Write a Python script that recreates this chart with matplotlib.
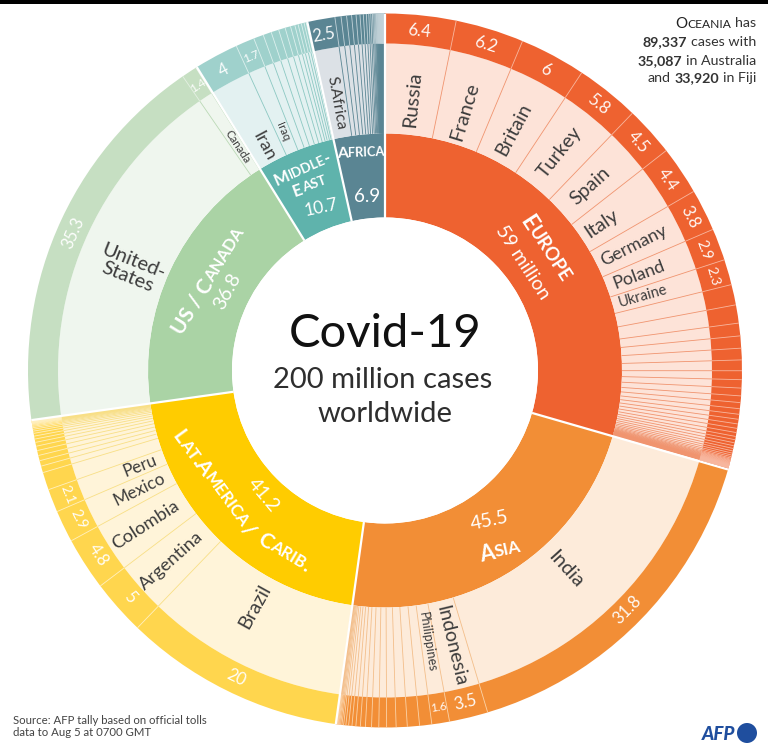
import math
import matplotlib
matplotlib.use("Agg")
import matplotlib.pyplot as plt
from matplotlib.patches import Wedge, Circle, Rectangle
from matplotlib.collections import LineCollection

plt.rcParams['font.family'] = ['Lato', 'DejaVu Sans']

# ---------- data (million cases) ----------
REGION_NAMES = ["Europe", "Asia", "LatAm", "US/Canada", "MiddleEast", "Africa"]
REGION_TOTALS = [59, 45.5, 41.2, 36.8, 10.7, 6.9]
OCEANIA_TOTAL = 0.09

EUROPE_VALUES = [6.4, 6.2, 6, 5.8, 4.5, 4.4, 3.8, 2.9, 2.3, 1.85, 1.65, 1.15, 1.1, 1.05, .97, .8, .75, .7, .6, .55, .5,
                 .45, .42, .4, .38, .35, .3, .28, .27, .25, .22, .2, .18, .15, .13, .1, .08, .07, .06, .06, .05, .05,
                 .04, .04, .03, .03, .03, .02, .02, .02, .02, .02, .02, .02, .02, .02, .01, .01, .01, .01, .01, .01]
EUROPE_NAMES = ["Russia", "France", "Britain", "Turkey", "Spain", "Italy", "Germany", "Poland", "Ukraine"]
ASIA_VALUES = [31.8, 3.5, 1.6, 1.1, 1.1, 1.0, .85, .7, .65, .55, .45, .4, .35, .3, .25, .2, .15, .12, .1, .08, .06,
               .05, .04, .03, .03, .02, .02]
ASIA_NAMES = ["India", "Indonesia", "Philippines"]
LATAM_VALUES = [20, 5, 4.8, 2.9, 2.1, 1.6, .6, .5, .48, .45, .4, .35, .3, .27, .25, .2, .17, .14, .12, .1, .08, .06,
                .05, .04, .03, .03, .02, .02, .02, .02, .02, .02, .02, .02, .02]
LATAM_NAMES = ["Brazil", "Argentina", "Colombia", "Mexico", "Peru"]
USCAN_VALUES = [35.3, 1.4]
USCAN_NAMES = ["United-\nStates", "Canada"]
ME_VALUES = [4, 1.7, .9, .75, .7, .6, .5, .4, .3, .3, .25, .2, .1]
ME_NAMES = ["Iran", "Iraq"]
AFRICA_VALUES = [2.5, .55, .5, .45, .4, .35, .3, .27, .22, .18, .15, .12, .1, .08, .06, .05, .05, .04, .04, .04, .04,
                 .03, .03, .03, .03, .03, .03, .02, .02, .02, .02, .02, .02, .02, .02, .02, .02]
AFRICA_NAMES = ["S.Africa"]

# ---------- style ----------
CX, CY = 385, 370.5
R_HOLE, R_IN, R_MID, R_OUT = 153, 237, 327, 357

INNER_COL = ["#EE6230", "#F28E36", "#FFCC00", "#AAD3A5", "#5FB3AC", "#5A8593"]
OUTER_COL = ["#EE6230", "#F28E36", "#FFD64E", "#C6DFC2", "#9FD1CC", "#5A8593"]
LIGHT_COL = ["#FDE3D8", "#FDEBDA", "#FFF4D9", "#EFF6EE", "#E3F1F1", "#DCE1E6"]
LINE_COL = ["#F0946F", "#F3BE8A", "#F8DF86", "#BBD9B6", "#8CC8C2", "#5A8593"]
OUTER_LINE_COL = ["#F8B79F", "#FBD3A8", "#FFF0C0", "#E4F0E2", "#DDF0EE", "#C3D3D9"]

fig = plt.figure(figsize=(7.68, 7.49), dpi=100)
ax = fig.add_axes([0, 0, 1, 1])
ax.set_xlim(0, 768)
ax.set_ylim(749, 0)
ax.axis('off')

TOTAL = sum(REGION_TOTALS) + OCEANIA_TOTAL
K = 360.0 / TOTAL


def wedge(a0, a1, r0, r1, color, z=1):
    ax.add_patch(Wedge((CX, CY), r1, a0 * K - 90, a1 * K - 90, width=r1 - r0, fc=color, ec='none', zorder=z))


def radial(a, r0, r1):
    t = math.radians(a * K - 90)
    return [(CX + r0 * math.cos(t), CY + r0 * math.sin(t)), (CX + r1 * math.cos(t), CY + r1 * math.sin(t))]


def polar(a, r):
    t = math.radians(a * K - 90)
    return CX + r * math.cos(t), CY + r * math.sin(t)


def norm_rot(a):
    th = a * K
    return 180 - th if 90 < th < 270 else -th


def name_rot(a):
    th = a * K
    return 90 - th if th < 180 else 270 - th


all_values = [EUROPE_VALUES, ASIA_VALUES, LATAM_VALUES, USCAN_VALUES, ME_VALUES, AFRICA_VALUES]
all_names = [EUROPE_NAMES, ASIA_NAMES, LATAM_NAMES, USCAN_NAMES, ME_NAMES, AFRICA_NAMES]

NAME_R = {"Russia": 272, "France": 271, "Britain": 273, "Turkey": 280, "Spain": 276, "Italy": 262, "Germany": 279,
          "Poland": 271, "Ukraine": 268, "India": 269, "Indonesia": 283, "Philippines": 275, "Brazil": 270,
          "Argentina": 286, "Colombia": 285, "Mexico": 273, "Peru": 263, "United-\nStates": 274, "Canada": 268,
          "Iran": 255, "Iraq": 260, "S.Africa": 272}
NAME_SIZE = {"Ukraine": 10.5, "Philippines": 9.2, "Canada": 8.3, "Iraq": 8.3, "Mexico": 12.3, "Peru": 12.3, "Poland": 13,
             "Germany": 13, "S.Africa": 11.5, "Iran": 13, "Colombia": 13.2, "Argentina": 13.2, "Spain": 14,
             "Italy": 14, "Turkey": 14, "Britain": 14, "France": 14.5, "Russia": 14.5, "Brazil": 14, "India": 14.5,
             "Indonesia": 14, "United-\nStates": 14.5}
NAME_SHIFT = {"Brazil": 3.0, "India": 3.0, "United-\nStates": -2.0}
SMALL_VALUE = {1.4: 8.5, 1.7: 8.5, 1.6: 8.5, 2.3: 10, 2.1: 10, 2.9: 10.5}

start = 0.0
segments = []
for i, (tot, vals, names) in enumerate(zip(REGION_TOTALS, all_values, all_names)):
    end = start + tot
    wedge(start, end, R_HOLE, R_IN, INNER_COL[i])
    wedge(start, end, R_IN, R_MID, LIGHT_COL[i])
    wedge(start, end, R_MID, R_OUT, OUTER_COL[i])
    cum = start
    mid_lines, out_lines = [], []
    for j, v in enumerate(vals):
        a0, a1 = cum, cum + v
        cum = a1
        if a1 < end:
            mid_lines.append(radial(a1, R_IN, R_MID))
            out_lines.append(radial(a1, R_MID, R_OUT))
        if j < len(names):
            nm = names[j]
            amid = (a0 + a1) / 2 + NAME_SHIFT.get(nm, 0) / K
            x, y = polar(amid, NAME_R[nm])
            ax.text(x, y, nm, fontsize=NAME_SIZE.get(nm, 15), color="#3c3c3c", rotation=name_rot(amid),
                    ha='center', va='center', rotation_mode='anchor', linespacing=0.95, zorder=5)
            x, y = polar((a0 + a1) / 2, 341)
            ax.text(x, y, "%g" % v, fontsize=SMALL_VALUE.get(v, 12), color="white",
                    alpha=0.95, rotation=norm_rot((a0 + a1) / 2), ha='center', va='center',
                    rotation_mode='anchor', zorder=5)
    ax.add_collection(LineCollection(mid_lines, colors=LINE_COL[i], linewidths=0.6, zorder=2))
    ax.add_collection(LineCollection(out_lines, colors=OUTER_LINE_COL[i], linewidths=0.6, zorder=2))
    segments.append(radial(start, R_HOLE, R_OUT))
    start = end
wedge(start, start + OCEANIA_TOTAL, R_MID, R_OUT, INNER_COL[5])
ax.add_collection(LineCollection(segments, colors="white", linewidths=1.6, zorder=3))
ax.add_patch(Circle((CX, CY), R_HOLE, fc='white', ec='none', zorder=4))


def caps(x, y, s, size, rot, color="white", weight='bold', align='center'):
    """Small capitals along a rotated baseline; x, y is the centre or the right end of the string."""
    runs = []
    for ch in s:
        low = ch.islower()
        if runs and runs[-1][1] == low:
            runs[-1][0] += ch
        else:
            runs.append([ch, low])
    r = fig.canvas.get_renderer()
    widths = []
    for t, low in runs:
        tx = ax.text(0, 0, t.upper(), fontsize=size * (0.8 if low else 1), fontweight=weight)
        widths.append(tx.get_window_extent(r).width)
        tx.remove()
    w = sum(widths)
    rad = math.radians(rot)
    off = -w / 2 if align == 'center' else -w
    for (t, low), wd in zip(runs, widths):
        ax.text(x + off * math.cos(rad), y - off * math.sin(rad), t.upper(), fontsize=size * (0.8 if low else 1),
                fontweight=weight, color=color, rotation=rot, rotation_mode='anchor', ha='left', va='center_baseline',
                zorder=6)
        off += wd


def inner_value(x, y, s, size, rot):
    ax.text(x, y, s, fontsize=size, color="white", rotation=rot, ha='center', va='center',
            rotation_mode='anchor', zorder=6)


# inner ring labels
caps(547, 248, "Europe", 16.5, -57)
inner_value(523, 262, "59 million", 14, -57)
caps(500, 549, "Asia", 15.5, 12)
inner_value(490, 521, "45.5", 14, 12)
caps(215, 482, "Lat.America/", 15, -54)
caps(285, 551, "Carib.", 15, -31)
inner_value(263, 495, "41.2", 14, -50)
caps(207, 280, "US / Canada", 15, 58)
inner_value(227, 291, "36.8", 14, 62)
caps(302, 168, "Middle-", 12, 24)
caps(309, 185, "East", 12, 20)
inner_value(321, 208, "10.7", 12.5, 12)
caps(361, 152, "Africa", 11.5, 2)
inner_value(367, 196, "6.9", 13.5, 0)

# centre title
ax.text(385, 347, "Covid-19", fontsize=34, color="#111111", ha='center', va='baseline', zorder=6)
ax.text(383, 388, "200 million cases", fontsize=21, color="#2e2e2e", ha='center', va='baseline', zorder=6)
ax.text(385, 422, "worldwide", fontsize=21, color="#2e2e2e", ha='center', va='baseline', zorder=6)

# top bar
ax.add_patch(Rectangle((0, 0), 768, 4, fc="black", ec='none', zorder=7))


# Oceania note (right aligned, mixed weights)
def mixed_right(xr, y, runs, size=10.3):
    r = fig.canvas.get_renderer()
    x = xr
    for t, w in reversed(runs):
        tx = ax.text(x, y, t, fontsize=size, fontweight=w, color="#333333", ha='right', va='center', zorder=6)
        x -= tx.get_window_extent(r).width + 3.5


rr = fig.canvas.get_renderer()
tx = ax.text(756, 23, "has", fontsize=10.3, color="#333333", ha='right', va='center', zorder=6)
caps(756 - tx.get_window_extent(rr).width - 3.5, 23, "Oceania", 10.8, 0, color="#222222", weight='normal', align='right')
mixed_right(756, 42, [("89,337", 'bold'), ("cases with", 'normal')])
mixed_right(756, 61, [("35,087", 'bold'), ("in Australia", 'normal')])
mixed_right(756, 78, [("and", 'normal'), ("33,920", 'bold'), ("in Fiji", 'normal')])

# source
ax.text(13, 720, "Source: AFP tally based on official tolls", fontsize=8.2, color="#444444", va='center')
ax.text(13, 733, "data to Aug 5 at 0700 GMT", fontsize=8.2, color="#444444", va='center')

# AFP logo
ax.text(735, 734, "AFP", fontsize=13.5, color="#1F4E9E", fontweight='black', style='italic', ha='right', va='center')
ax.add_patch(Circle((747, 733), 10, fc="#1F4E9E", ec='none'))

fig.savefig("out.png", dpi=100)
